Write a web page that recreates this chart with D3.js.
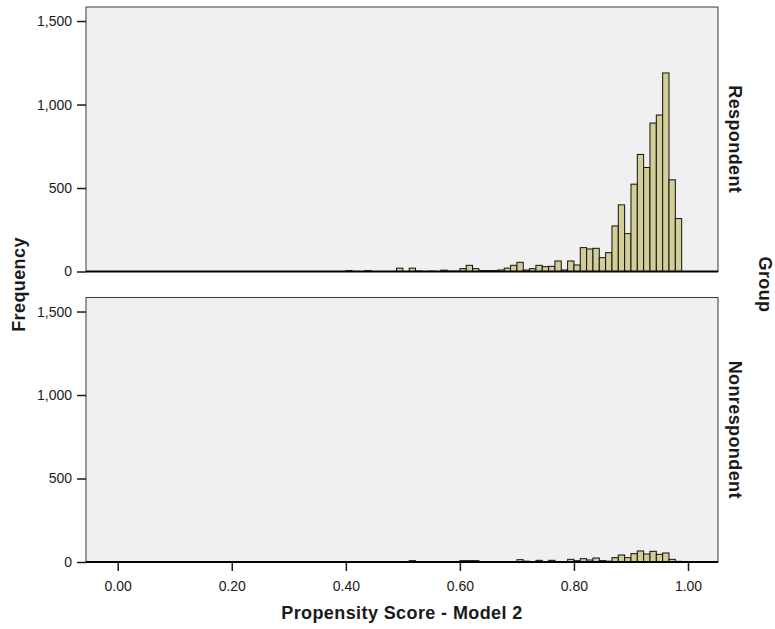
<!DOCTYPE html>
<html>
<head>
<meta charset="utf-8">
<script src="https://cdn.jsdelivr.net/npm/d3@7"></script>
<style>
  body { margin: 0; background: #fff; }
  text { font-family: "Liberation Sans", Arial, sans-serif; fill: #1a1a1a; }
  .tick text { font-size: 14px; }
  .label { font-size: 18px; font-weight: bold; letter-spacing: 0.4px; }
</style>
</head>
<body>
<svg id="chart" width="775" height="629"></svg>
<script>
// histogram bins: first bin starts at 0.40, width 1/90
const binStart = 0.4;
const binWidth = 1 / 90;
const groups = ["Respondent", "Nonrespondent"];

const respondent = [
  5, 0, 0, 5, 0, 0, 0, 0, 20, 0,
  20, 3, 0, 2, 0, 8, 2, 2, 17, 37,
  17, 5, 5, 5, 9, 20, 37, 55, 9, 17,
  37, 29, 31, 63, 9, 63, 39, 143, 135, 139,
  83, 113, 273, 399, 227, 523, 701, 623, 889, 937,
  1189, 549, 317
];
const nonrespondent = [
  2, 0, 0, 2, 0, 0, 0, 0, 2, 0,
  8, 2, 2, 2, 2, 2, 2, 2, 8, 8,
  8, 3, 3, 0, 3, 3, 3, 14, 5, 3,
  10, 3, 10, 3, 0, 16, 8, 20, 12, 24,
  8, 5, 26, 42, 26, 50, 66, 48, 64, 46,
  54, 16, 4
];
const xTicks = [0, 0.2, 0.4, 0.6, 0.8, 1.0];
const yTicks = [0, 500, 1000, 1500];

const svg = d3.select("#chart");

const left = 86, right = 718;
const panels = [
  { name: groups[0], values: respondent, top: 7, bottom: 271.5 },
  { name: groups[1], values: nonrespondent, top: 297.5, bottom: 562 }
];

let x = d3.scaleLinear()
  .domain([-0.0556, 1.0526])
  .range([left, right]);

panels.forEach(function(p) {
  let y = d3.scaleLinear()
    .domain([0, 1584])
    .range([p.bottom, p.top]);

  let g = svg.append("g").classed("panel", true);

  // background + frame
  g.append("rect")
    .attr("x", left)
    .attr("y", p.top)
    .attr("width", right - left)
    .attr("height", p.bottom - p.top)
    .attr("fill", "#f0f0f0")
    .attr("stroke", "#3a3a3a")
    .attr("stroke-width", 1);

  let bins = p.values.map(function(v, i) {
    return { x0: binStart + i * binWidth, x1: binStart + (i + 1) * binWidth, count: v };
  }).filter(d => d.count > 0);

  g.selectAll("rect.bar")
    .data(bins)
    .enter().append("rect")
    .classed("bar", true)
    .attr("x", d => x(d.x0))
    .attr("y", d => y(d.count))
    .attr("width", d => x(d.x1) - x(d.x0))
    .attr("height", d => y(0) - y(d.count))
    .attr("fill", "#d3cd97")
    .attr("stroke", "#111")
    .attr("stroke-width", 1);

  // baseline
  g.append("line")
    .attr("x1", left)
    .attr("x2", right)
    .attr("y1", y(0))
    .attr("y2", y(0))
    .attr("stroke", "#000")
    .attr("stroke-width", 1.8);

  let yAxis = g.append("g")
    .attr("transform", "translate(" + left + ",0)")
    .call(d3.axisLeft(y).tickValues(yTicks).tickFormat(d3.format(",")).tickSize(9).tickPadding(5));
  yAxis.select(".domain").remove();
  yAxis.selectAll(".tick line").attr("stroke", "#1a1a1a").attr("stroke-width", 1.5);
  yAxis.selectAll(".tick text").attr("fill", "#1a1a1a");

  // group name on the right
  g.append("text")
    .classed("label", true)
    .text(p.name)
    .attr("transform", "translate(729," + ((p.top + p.bottom) / 2) + ") rotate(90)")
    .style("text-anchor", "middle");
});

let xAxis = svg.append("g")
  .attr("transform", "translate(0,562)")
  .call(d3.axisBottom(x).tickValues(xTicks).tickFormat(d3.format(".2f")).tickSize(9).tickPadding(10));
xAxis.select(".domain").remove();
xAxis.selectAll(".tick line").attr("stroke", "#1a1a1a").attr("stroke-width", 1.5);
xAxis.selectAll(".tick text").attr("fill", "#1a1a1a");

svg.append("text")
  .classed("label", true)
  .text("Propensity Score - Model 2")
  .attr("x", (left + right) / 2)
  .attr("y", 619)
  .style("text-anchor", "middle");

svg.append("text")
  .classed("label", true)
  .text("Frequency")
  .attr("transform", "translate(25,284.5) rotate(-90)")
  .style("text-anchor", "middle");

svg.append("text")
  .classed("label", true)
  .text("Group")
  .attr("transform", "translate(759,284.5) rotate(90)")
  .style("text-anchor", "middle");
</script>
</body>
</html>
